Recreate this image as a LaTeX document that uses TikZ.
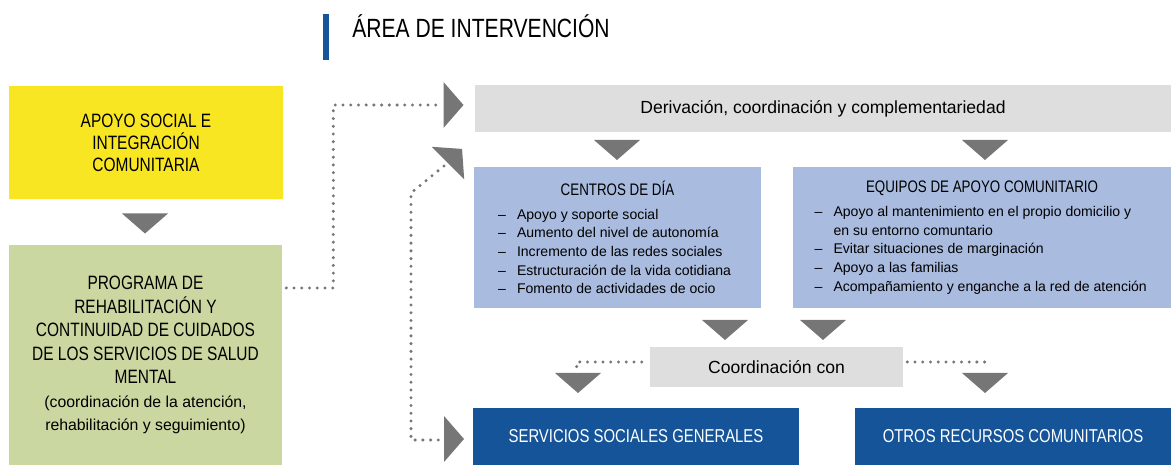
\documentclass[tikz,border=0pt]{standalone}
\usepackage{fontspec}
\setmainfont{Liberation Sans}
\newfontfamily\capsfont[FakeStretch=0.8]{Liberation Sans}
\usetikzlibrary{calc}

\definecolor{amarillo}{RGB}{249,230,35}
\definecolor{verde}{RGB}{203,215,160}
\definecolor{celeste}{RGB}{169,188,224}
\definecolor{azul}{RGB}{21,84,152}
\definecolor{gris}{RGB}{222,222,222}
\definecolor{flecha}{RGB}{118,118,118}

\newlength\pxu \setlength\pxu{0.02cm}
\newcommand{\itm}[1]{\par\noindent\hangindent=19\pxu\hangafter=1\makebox[19\pxu][l]{–}#1\par}

\tikzset{
	caja/.style={rectangle, inner sep=0pt, align=center},
	tri/.pic={\fill[flecha] (-23,-10) -- (23,-10) -- (0,10) -- cycle;},
	puntos/.style={flecha, line width=1.9pt, line cap=round, dash pattern=on 0pt off 4.4pt}
}

\begin{document}
\begin{tikzpicture}[x=0.02cm,y=-0.02cm]
		\useasboundingbox (0,0) rectangle (1171,465);
		% titulo
		\fill[azul] (323,14) rectangle (329,60);
		\node[anchor=west, inner sep=0pt, font=\capsfont\fontsize{15}{18}\selectfont] (titulo) at (352,26) {ÁREA DE INTERVENCIÓN};
		% columna izquierda
		\node[caja, fill=amarillo, minimum width=5.48cm, minimum height=2.26cm, font=\capsfont\fontsize{11}{12.5}\selectfont] (apoyo) at (146,142.5) {APOYO SOCIAL E\\INTEGRACIÓN\\COMUNITARIA};
		\pic at (145,223.5) {tri};
		\node[caja, fill=verde, minimum width=5.46cm, minimum height=4.4cm, font=\capsfont\fontsize{11}{13.4}\selectfont] (programa) at (145.5,355) {PROGRAMA DE\\REHABILITACIÓN Y\\CONTINUIDAD DE CUIDADOS\\DE LOS SERVICIOS DE SALUD\\MENTAL\\{\rmfamily\fontsize{9}{12}\selectfont (coordinación de la atención,}\\{\rmfamily\fontsize{9}{12}\selectfont rehabilitación y seguimiento)}};
		% area de intervencion
		\node[caja, fill=gris, minimum width=13.92cm, minimum height=0.94cm, font=\fontsize{10}{12}\selectfont] (deriv) at (823,108.5) {Derivación, coordinación y complementariedad};
		\pic at (617,150) {tri};
		\pic at (985,150) {tri};
		\node[caja, fill=celeste, minimum width=5.74cm, minimum height=2.82cm] (centros) at (617.5,237.5) {\parbox{4.78cm}{\parskip=0pt\centering{\capsfont\fontsize{9.5}{12}\selectfont CENTROS DE DÍA}\par\vspace{3pt}\raggedright\fontsize{8}{10.6}\selectfont
			\itm{Apoyo y soporte social}
			\itm{Aumento del nivel de autonomía}
			\itm{Incremento de las redes sociales}
			\itm{Estructuración de la vida cotidiana}
			\itm{Fomento de actividades de ocio}}};
		\node[caja, fill=celeste, minimum width=7.56cm, minimum height=2.82cm] (equipos) at (982,237.5) {\parbox{6.7cm}{\parskip=0pt\centering{\capsfont\fontsize{9.5}{12}\selectfont EQUIPOS DE APOYO COMUNITARIO}\par\vspace{3pt}\raggedright\fontsize{8}{10.6}\selectfont
			\itm{Apoyo al mantenimiento en el propio domicilio y\newline en su entorno comuntario}
			\itm{Evitar situaciones de marginación}
			\itm{Apoyo a las familias}
			\itm{Acompañamiento y enganche a la red de atención}}};
		\pic at (725,330) {tri};
		\pic at (823,330) {tri};
		\node[caja, fill=gris, minimum width=5.06cm, minimum height=0.8cm, font=\fontsize{10}{12}\selectfont] (coord) at (776.5,367) {Coordinación con};
		\pic at (578,383) {tri};
		\pic at (985,383) {tri};
		\node[caja, fill=azul, text=white, minimum width=6.52cm, minimum height=1.14cm, font=\capsfont\fontsize{10.6}{12}\selectfont] (servicios) at (636,436.5) {SERVICIOS SOCIALES GENERALES};
		\node[caja, fill=azul, text=white, minimum width=6.32cm, minimum height=1.14cm, font=\capsfont\fontsize{10.6}{12}\selectfont] (otros) at (1013,436.5) {OTROS RECURSOS COMUNITARIOS};
		% conectores punteados
		\coordinate (d1) at ($(deriv.west)+(-35,-3.5)$);
		\coordinate (d2) at ($(servicios.west)+(-33,3.5)$);
		\coordinate (d3) at (444,166);
		\draw[puntos] ($(programa.east)+(4,-67)$) -- ++(47,0) |- (d1);
		\draw[puntos] (d3) -- (411,193) |- (d2);
		\pic[rotate=90] at (453.5,105) {tri};
		\pic[rotate=135] at (455,156) {tri};
		\pic[rotate=90] at (454,439) {tri};
		\draw[puntos] ($(coord.west)+(-8,-5)$) -- ++(-65,0) -- ++(0,6);
		\draw[puntos] ($(coord.east)+(4,-5)$) -- ++(78,0) -- ++(0,6);
\end{tikzpicture}
\end{document}
